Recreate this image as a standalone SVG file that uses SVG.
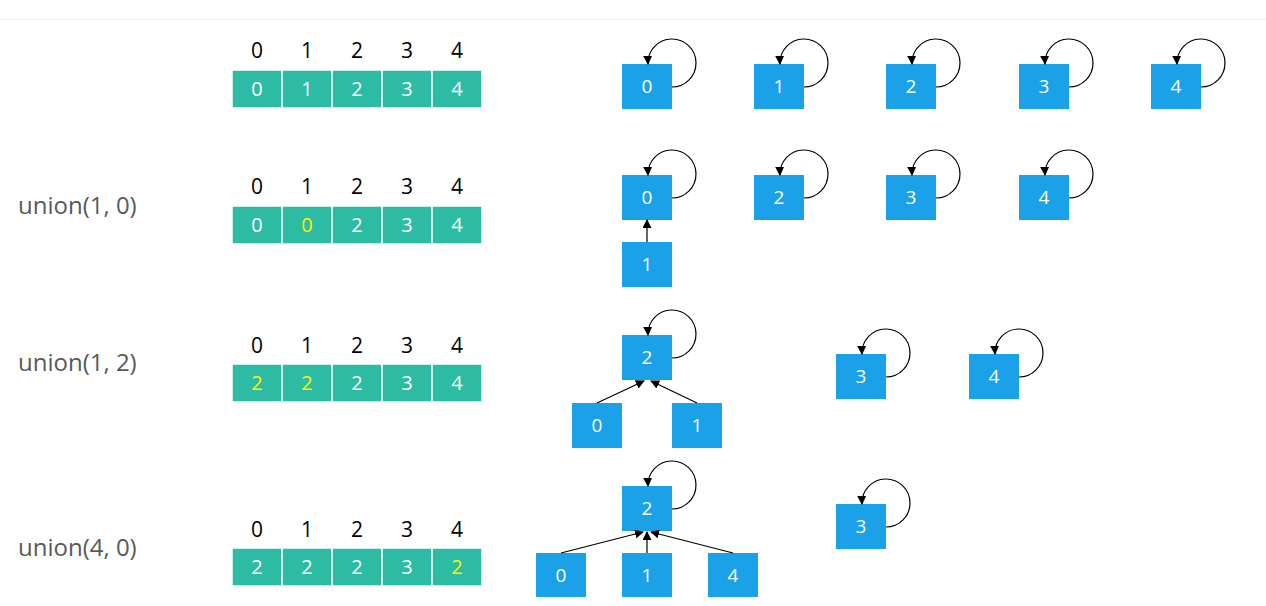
<svg xmlns="http://www.w3.org/2000/svg" width="1266" height="606" viewBox="0 0 1266 606">
<defs>
<marker id="ah" viewBox="0 0 10 10" refX="9" refY="5" markerWidth="9" markerHeight="9" markerUnits="userSpaceOnUse" orient="auto">
<path d="M0,0 L10,5 L0,10 z" fill="#000"/>
</marker>
<style>
.cell{fill:#2EBBA3;stroke:#ffffff;stroke-width:1.5}
.ct{font-family:"Open Sans","Liberation Sans",sans-serif;font-size:20px;fill:#ffffff;text-anchor:middle}
.cy{fill:#FFF200}
.idx{font-family:"Open Sans","Liberation Sans",sans-serif;font-size:21px;fill:#000;text-anchor:middle}
.node{fill:#1BA1E8}
.nt{font-family:"Open Sans","Liberation Sans",sans-serif;font-size:19px;fill:#ffffff;text-anchor:middle}
.lbl{font-family:"Open Sans","Liberation Sans",sans-serif;font-size:24px;fill:#595959}
.edge{fill:none;stroke:#000;stroke-width:1.2;marker-end:url(#ah)}
</style>
</defs>
<rect width="1266" height="606" fill="#fff"/>
<line x1="0" y1="19.5" x2="1266" y2="19.5" stroke="#f3f3f3" stroke-width="1.5"/>

<g id="labels">
<text class="lbl" x="18" y="214">union(1, 0)</text>
<text class="lbl" x="18" y="371">union(1, 2)</text>
<text class="lbl" x="18" y="556">union(4, 0)</text>
</g>

<g id="array1">
<text class="idx" x="257" y="58">0</text><text class="idx" x="307" y="58">1</text><text class="idx" x="357" y="58">2</text><text class="idx" x="407" y="58">3</text><text class="idx" x="457" y="58">4</text>
<rect class="cell" x="232" y="70" width="50" height="38"/><rect class="cell" x="282" y="70" width="50" height="38"/><rect class="cell" x="332" y="70" width="50" height="38"/><rect class="cell" x="382" y="70" width="50" height="38"/><rect class="cell" x="432" y="70" width="50" height="38"/>
<text class="ct" x="257" y="96">0</text><text class="ct" x="307" y="96">1</text><text class="ct" x="357" y="96">2</text><text class="ct" x="407" y="96">3</text><text class="ct" x="457" y="96">4</text>
</g>

<g id="array2">
<text class="idx" x="257" y="194">0</text><text class="idx" x="307" y="194">1</text><text class="idx" x="357" y="194">2</text><text class="idx" x="407" y="194">3</text><text class="idx" x="457" y="194">4</text>
<rect class="cell" x="232" y="206" width="50" height="38"/><rect class="cell" x="282" y="206" width="50" height="38"/><rect class="cell" x="332" y="206" width="50" height="38"/><rect class="cell" x="382" y="206" width="50" height="38"/><rect class="cell" x="432" y="206" width="50" height="38"/>
<text class="ct" x="257" y="232">0</text><text class="ct cy" x="307" y="232">0</text><text class="ct" x="357" y="232">2</text><text class="ct" x="407" y="232">3</text><text class="ct" x="457" y="232">4</text>
</g>

<g id="array3">
<text class="idx" x="257" y="353">0</text><text class="idx" x="307" y="353">1</text><text class="idx" x="357" y="353">2</text><text class="idx" x="407" y="353">3</text><text class="idx" x="457" y="353">4</text>
<rect class="cell" x="232" y="364" width="50" height="38"/><rect class="cell" x="282" y="364" width="50" height="38"/><rect class="cell" x="332" y="364" width="50" height="38"/><rect class="cell" x="382" y="364" width="50" height="38"/><rect class="cell" x="432" y="364" width="50" height="38"/>
<text class="ct cy" x="257" y="390">2</text><text class="ct cy" x="307" y="390">2</text><text class="ct" x="357" y="390">2</text><text class="ct" x="407" y="390">3</text><text class="ct" x="457" y="390">4</text>
</g>

<g id="array4">
<text class="idx" x="257" y="537">0</text><text class="idx" x="307" y="537">1</text><text class="idx" x="357" y="537">2</text><text class="idx" x="407" y="537">3</text><text class="idx" x="457" y="537">4</text>
<rect class="cell" x="232" y="548" width="50" height="38"/><rect class="cell" x="282" y="548" width="50" height="38"/><rect class="cell" x="332" y="548" width="50" height="38"/><rect class="cell" x="382" y="548" width="50" height="38"/><rect class="cell" x="432" y="548" width="50" height="38"/>
<text class="ct" x="257" y="574">2</text><text class="ct" x="307" y="574">2</text><text class="ct" x="357" y="574">2</text><text class="ct" x="407" y="574">3</text><text class="ct cy" x="457" y="574">2</text>
</g>

<!-- row 1 nodes -->
<g id="r1n0"><rect class="node" x="622" y="64" width="50" height="45"/><text class="nt" x="647" y="93">0</text></g>
<g id="r1n1"><rect class="node" x="754" y="64" width="50" height="45"/><text class="nt" x="779" y="93">1</text></g>
<g id="r1n2"><rect class="node" x="886" y="64" width="50" height="45"/><text class="nt" x="911" y="93">2</text></g>
<g id="r1n3"><rect class="node" x="1019" y="64" width="50" height="45"/><text class="nt" x="1044" y="93">3</text></g>
<g id="r1n4"><rect class="node" x="1151" y="64" width="50" height="45"/><text class="nt" x="1176" y="93">4</text></g>

<!-- row 2 nodes -->
<g id="r2n0"><rect class="node" x="622" y="175" width="50" height="45"/><text class="nt" x="647" y="204">0</text></g>
<g id="r2n1"><rect class="node" x="622" y="242" width="50" height="45"/><text class="nt" x="647" y="271">1</text></g>
<g id="r2n2"><rect class="node" x="754" y="175" width="50" height="45"/><text class="nt" x="779" y="204">2</text></g>
<g id="r2n3"><rect class="node" x="886" y="175" width="50" height="45"/><text class="nt" x="911" y="204">3</text></g>
<g id="r2n4"><rect class="node" x="1019" y="175" width="50" height="45"/><text class="nt" x="1044" y="204">4</text></g>

<!-- row 3 nodes -->
<g id="r3n2"><rect class="node" x="622" y="335" width="50" height="45"/><text class="nt" x="647" y="364">2</text></g>
<g id="r3n0"><rect class="node" x="572" y="403" width="50" height="45"/><text class="nt" x="597" y="432">0</text></g>
<g id="r3n1"><rect class="node" x="672" y="403" width="50" height="45"/><text class="nt" x="697" y="432">1</text></g>
<g id="r3n3"><rect class="node" x="836" y="354" width="50" height="45"/><text class="nt" x="861" y="383">3</text></g>
<g id="r3n4"><rect class="node" x="969" y="354" width="50" height="45"/><text class="nt" x="994" y="383">4</text></g>

<!-- row 4 nodes -->
<g id="r4n2"><rect class="node" x="622" y="486" width="50" height="45"/><text class="nt" x="647" y="515">2</text></g>
<g id="r4n0"><rect class="node" x="536" y="553" width="50" height="44"/><text class="nt" x="561" y="582">0</text></g>
<g id="r4n1"><rect class="node" x="622" y="553" width="50" height="44"/><text class="nt" x="647" y="582">1</text></g>
<g id="r4n4"><rect class="node" x="708" y="553" width="50" height="44"/><text class="nt" x="733" y="582">4</text></g>
<g id="r4n3"><rect class="node" x="836" y="504" width="50" height="45"/><text class="nt" x="861" y="533">3</text></g>

<g id="connectors">
<path class="edge" d="M672,87 A24,24 0 1,0 648,64"/>
<path class="edge" d="M804,87 A24,24 0 1,0 780,64"/>
<path class="edge" d="M936,87 A24,24 0 1,0 912,64"/>
<path class="edge" d="M1069,87 A24,24 0 1,0 1045,64"/>
<path class="edge" d="M1201,87 A24,24 0 1,0 1177,64"/>

<path class="edge" d="M672,198 A24,24 0 1,0 648,175"/>
<path class="edge" d="M804,198 A24,24 0 1,0 780,175"/>
<path class="edge" d="M936,198 A24,24 0 1,0 912,175"/>
<path class="edge" d="M1069,198 A24,24 0 1,0 1045,175"/>
<path class="edge" d="M647,242 L647,220"/>

<path class="edge" d="M672,358 A24,24 0 1,0 648,335"/>
<path class="edge" d="M886,377 A24,24 0 1,0 862,354"/>
<path class="edge" d="M1019,377 A24,24 0 1,0 995,354"/>
<path class="edge" d="M597,403 L644,381"/>
<path class="edge" d="M697,403 L651,381"/>

<path class="edge" d="M672,509 A24,24 0 1,0 648,486"/>
<path class="edge" d="M886,527 A24,24 0 1,0 862,504"/>
<path class="edge" d="M561,553 L643,532"/>
<path class="edge" d="M647,553 L647,532"/>
<path class="edge" d="M733,553 L651,532"/>
</g>
</svg>
